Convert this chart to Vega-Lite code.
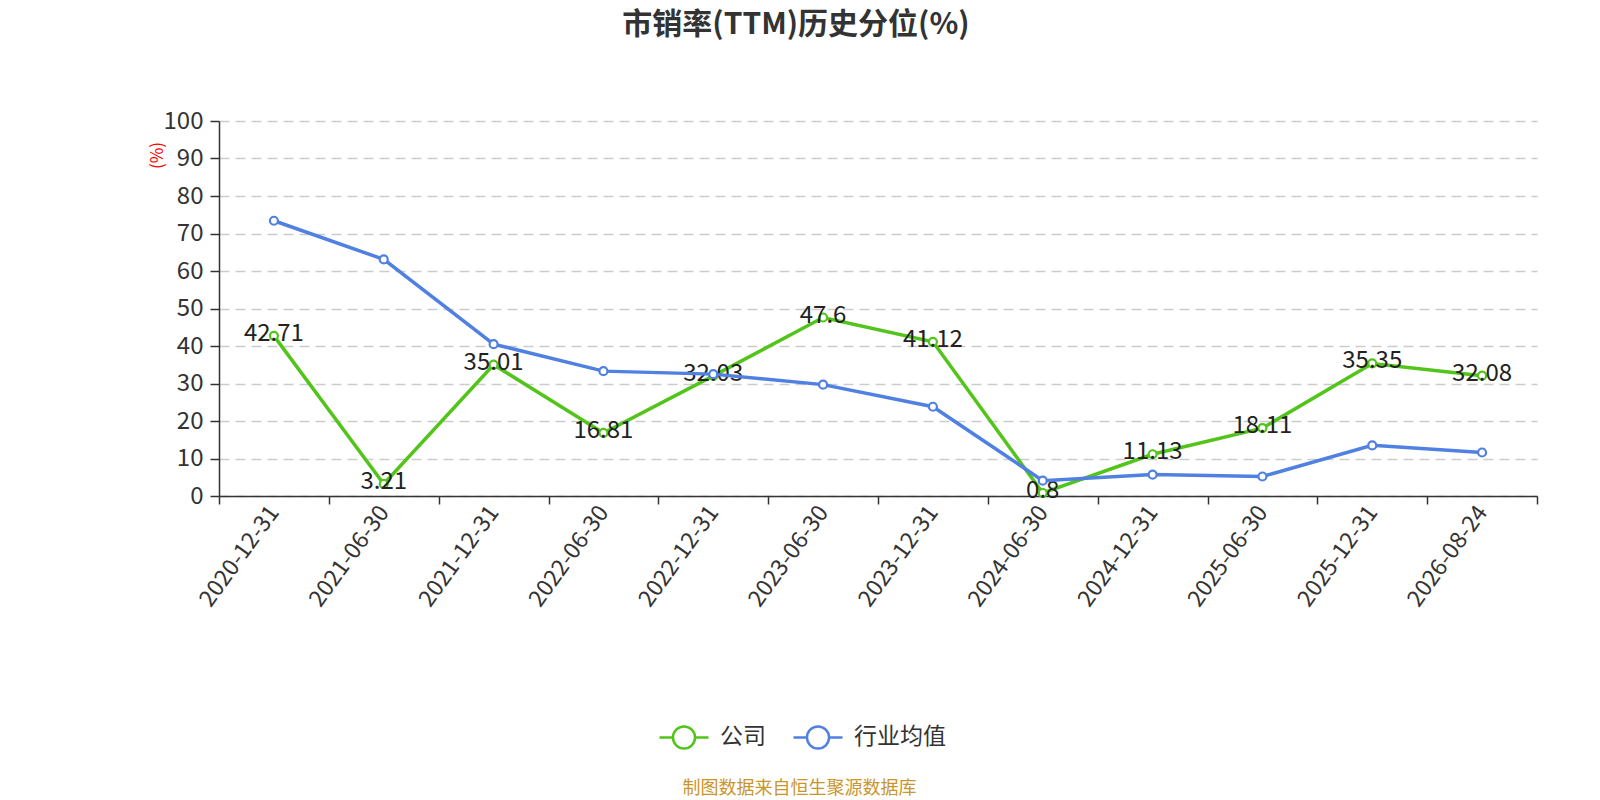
{
  "$schema": "https://vega.github.io/schema/vega-lite/v6.json",
  "autosize": {"type": "none"},
  "padding": {"left": 219, "top": 121, "right": 63, "bottom": 304},
  "width": 1318,
  "height": 375,
  "background": "white",
  "config": {"font": "Noto Sans CJK SC", "view": {"stroke": null}},
  "title": {
    "text": "市销率(TTM)历史分位(%)",
    "fontSize": 30,
    "fontWeight": "bold",
    "color": "#333333",
    "anchor": "middle",
    "frame": "group",
    "dx": -82,
    "offset": 69
  },
  "data": {
    "values": [
      {"date": "2020-12-31", "series": "公司", "value": 42.71},
      {"date": "2021-06-30", "series": "公司", "value": 3.21},
      {"date": "2021-12-31", "series": "公司", "value": 35.01},
      {"date": "2022-06-30", "series": "公司", "value": 16.81},
      {"date": "2022-12-31", "series": "公司", "value": 32.03},
      {"date": "2023-06-30", "series": "公司", "value": 47.6},
      {"date": "2023-12-31", "series": "公司", "value": 41.12},
      {"date": "2024-06-30", "series": "公司", "value": 0.8},
      {"date": "2024-12-31", "series": "公司", "value": 11.13},
      {"date": "2025-06-30", "series": "公司", "value": 18.11},
      {"date": "2025-12-31", "series": "公司", "value": 35.35},
      {"date": "2026-08-24", "series": "公司", "value": 32.08},
      {"date": "2020-12-31", "series": "行业均值", "value": 73.4},
      {"date": "2021-06-30", "series": "行业均值", "value": 63.1},
      {"date": "2021-12-31", "series": "行业均值", "value": 40.5},
      {"date": "2022-06-30", "series": "行业均值", "value": 33.3},
      {"date": "2022-12-31", "series": "行业均值", "value": 32.5},
      {"date": "2023-06-30", "series": "行业均值", "value": 29.7},
      {"date": "2023-12-31", "series": "行业均值", "value": 23.8},
      {"date": "2024-06-30", "series": "行业均值", "value": 4.1},
      {"date": "2024-12-31", "series": "行业均值", "value": 5.7},
      {"date": "2025-06-30", "series": "行业均值", "value": 5.2},
      {"date": "2025-12-31", "series": "行业均值", "value": 13.5},
      {"date": "2026-08-24", "series": "行业均值", "value": 11.6}
    ]
  },
  "encoding": {
    "x": {
      "field": "date",
      "type": "ordinal",
      "sort": null,
      "scale": {"type": "band", "paddingInner": 0, "paddingOuter": 0},
      "axis": {
        "title": "制图数据来自恒生聚源数据库",
        "titleColor": "#c8962b",
        "titleFontSize": 18,
        "titleFontWeight": "normal",
        "titleX": 580,
        "titleY": 292,
        "titleAlign": "center",
        "titleBaseline": "middle",
        "labelAngle": -54,
        "labelFontSize": 23,
        "labelColor": "#333333",
        "labelPadding": 4,
        "tickBand": "extent",
        "tickSize": 8,
        "tickColor": "#333333",
        "tickWidth": 1.5,
        "domainColor": "#333333",
        "domainWidth": 1.5,
        "grid": false
      }
    },
    "y": {
      "field": "value",
      "type": "quantitative",
      "scale": {"domain": [0, 100]},
      "axis": {
        "values": [0, 10, 20, 30, 40, 50, 60, 70, 80, 90, 100],
        "title": "(%)",
        "titleColor": "red",
        "titleFontSize": 17,
        "titleFontWeight": "normal",
        "titleAngle": -90,
        "titleX": -62,
        "titleY": 34,
        "titleAlign": "center",
        "titleBaseline": "middle",
        "labelFontSize": 24,
        "labelColor": "#333333",
        "labelPadding": 7,
        "tickSize": 9,
        "tickColor": "#333333",
        "tickWidth": 1.5,
        "domainColor": "#333333",
        "domainWidth": 1.5,
        "gridColor": "#cccccc",
        "gridDash": [10, 6],
        "gridWidth": 1.5
      }
    },
    "color": {
      "field": "series",
      "type": "nominal",
      "sort": null,
      "scale": {"domain": ["公司", "行业均值"], "range": ["#52c41a", "#4f80e2"]},
      "legend": {
        "title": null,
        "orient": "none",
        "legendX": 439,
        "legendY": 590,
        "direction": "horizontal",
        "labelFontSize": 23,
        "labelColor": "#333333",
        "labelOffset": 10,
        "columnPadding": 22,
        "symbolType": "M-1,0L-0.45,0M0.45,0L1,0M0.45,0A0.45,0.45,0,1,1,-0.45,0A0.45,0.45,0,1,1,0.45,0Z",
        "symbolSize": 2400,
        "symbolStrokeWidth": 2.5,
        "symbolFillColor": "white"
      }
    }
  },
  "layer": [
    {
      "transform": [{"filter": "datum.series === '公司'"}],
      "mark": {"type": "line", "strokeWidth": 3.5}
    },
    {
      "transform": [{"filter": "datum.series === '公司'"}],
      "mark": {"type": "point", "filled": false, "fill": "white", "size": 64, "strokeWidth": 2.2, "opacity": 1}
    },
    {
      "transform": [{"filter": "datum.series === '公司'"}],
      "mark": {"type": "text", "fontSize": 24, "baseline": "middle", "dy": -2, "fill": "#222222"},
      "encoding": {"text": {"field": "value", "type": "quantitative"}, "color": {"value": "#222222"}}
    },
    {
      "transform": [{"filter": "datum.series === '行业均值'"}],
      "mark": {"type": "line", "strokeWidth": 3.5}
    },
    {
      "transform": [{"filter": "datum.series === '行业均值'"}],
      "mark": {"type": "point", "filled": false, "fill": "white", "size": 64, "strokeWidth": 2.2, "opacity": 1}
    }
  ]
}
